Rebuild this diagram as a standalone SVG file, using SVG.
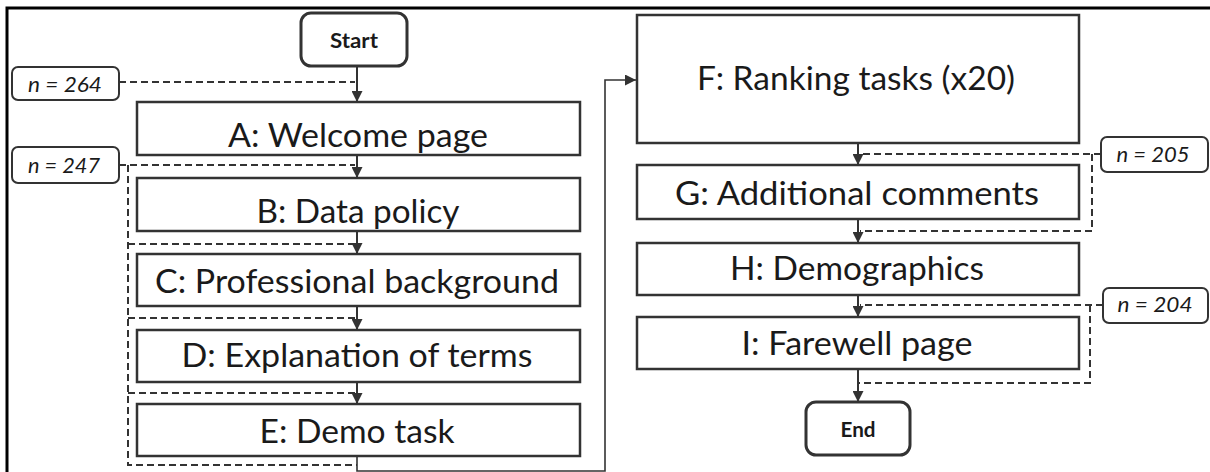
<svg xmlns="http://www.w3.org/2000/svg" width="1210" height="472" viewBox="0 0 1210 472">
<style>
.box{fill:#fff;stroke:#333;stroke-width:2.5}
.term{fill:#fff;stroke:#333;stroke-width:3}
.nbox{fill:#fff;stroke:#333;stroke-width:2}
.lbl{font-family:Lato,"Open Sans",sans-serif;font-size:32px;fill:#1a1a1a;text-anchor:middle}
.tl{font-family:Lato,"Open Sans",sans-serif;font-size:21px;font-weight:bold;fill:#1a1a1a;text-anchor:middle}
.nl{font-family:Lato,"Open Sans",sans-serif;font-size:22px;font-style:italic;fill:#1a1a1a;text-anchor:middle}
.solid{fill:none;stroke:#333;stroke-width:2}
.thin{fill:none;stroke:#333;stroke-width:1.6}
.dash{fill:none;stroke:#333;stroke-width:2;stroke-dasharray:7 4}
</style>
<defs>
<marker id="arr" markerUnits="userSpaceOnUse" markerWidth="11" markerHeight="11" refX="11" refY="5.5" orient="auto">
<path d="M0,0 L11,5.5 L0,11 z" fill="#333"/>
</marker>
</defs>
<rect width="1210" height="472" fill="#fff"/>
<path d="M7,472 V8 H1210" fill="none" stroke="#000" stroke-width="3"/>

<g id="connectors">
<path class="solid" d="M357,66 V102" marker-end="url(#arr)"/>
<path class="solid" d="M357,155 V178" marker-end="url(#arr)"/>
<path class="solid" d="M357,231 V254" marker-end="url(#arr)"/>
<path class="solid" d="M357,306 V330" marker-end="url(#arr)"/>
<path class="solid" d="M357,382 V404" marker-end="url(#arr)"/>
<path class="thin" d="M357,456 V471 H605 V80 H636" marker-end="url(#arr)"/>
<path class="solid" d="M858,143 V165" marker-end="url(#arr)"/>
<path class="solid" d="M858,219 V243" marker-end="url(#arr)"/>
<path class="solid" d="M858,295 V317" marker-end="url(#arr)"/>
<path class="solid" d="M858,369 V402" marker-end="url(#arr)"/>
<path class="dash" d="M119,82 H355"/>
<path class="dash" d="M119,165 H355"/>
<path class="dash" d="M128,165 V465 H357"/>
<path class="dash" d="M128,244 H355"/>
<path class="dash" d="M128,318 H355"/>
<path class="dash" d="M128,393 H355"/>
<path class="dash" d="M1101,154 H860"/>
<path class="dash" d="M1092,154 V231 H860"/>
<path class="dash" d="M1103,305 H860"/>
<path class="dash" d="M1090,305 V383 H858"/>
</g>

<g id="start"><rect class="term" x="301" y="13" width="106" height="53" rx="10"/><text class="tl" x="354" y="48" textLength="48" lengthAdjust="spacingAndGlyphs">Start</text></g>
<g id="n264"><rect class="nbox" x="12" y="67" width="107" height="33" rx="6"/><text class="nl" x="65" y="92" textLength="74" lengthAdjust="spacingAndGlyphs">n = 264</text></g>
<g id="n247"><rect class="nbox" x="12" y="147" width="107" height="36" rx="6"/><text class="nl" x="64" y="173" textLength="72" lengthAdjust="spacingAndGlyphs">n = 247</text></g>
<g id="nodeA"><rect class="box" x="137" y="102" width="443" height="53"/><text class="lbl" x="358" y="147" textLength="260" lengthAdjust="spacingAndGlyphs">A: Welcome page</text></g>
<g id="nodeB"><rect class="box" x="137" y="178" width="443" height="53"/><text class="lbl" x="358" y="223" textLength="203" lengthAdjust="spacingAndGlyphs">B: Data policy</text></g>
<g id="nodeC"><rect class="box" x="137" y="254" width="443" height="52"/><text class="lbl" x="357" y="293" textLength="404" lengthAdjust="spacingAndGlyphs">C: Professional background</text></g>
<g id="nodeD"><rect class="box" x="137" y="330" width="443" height="52"/><text class="lbl" x="357" y="367" textLength="351" lengthAdjust="spacingAndGlyphs">D: Explanation of terms</text></g>
<g id="nodeE"><rect class="box" x="137" y="404" width="443" height="52"/><text class="lbl" x="357" y="443" textLength="195" lengthAdjust="spacingAndGlyphs">E: Demo task</text></g>
<g id="nodeF"><rect class="box" x="637" y="15" width="442" height="128"/><text class="lbl" x="856" y="90" textLength="318" lengthAdjust="spacingAndGlyphs">F: Ranking tasks (x20)</text></g>
<g id="n205"><rect class="nbox" x="1101" y="137" width="107" height="35" rx="6"/><text class="nl" x="1153" y="162" textLength="73" lengthAdjust="spacingAndGlyphs">n = 205</text></g>
<g id="nodeG"><rect class="box" x="637" y="165" width="442" height="54"/><text class="lbl" x="857" y="205" textLength="364" lengthAdjust="spacingAndGlyphs">G: Additional comments</text></g>
<g id="nodeH"><rect class="box" x="637" y="243" width="442" height="52"/><text class="lbl" x="857" y="280" textLength="254" lengthAdjust="spacingAndGlyphs">H: Demographics</text></g>
<g id="n204"><rect class="nbox" x="1103" y="288" width="105" height="35" rx="6"/><text class="nl" x="1155" y="312" textLength="75" lengthAdjust="spacingAndGlyphs">n = 204</text></g>
<g id="nodeI"><rect class="box" x="637" y="317" width="442" height="52"/><text class="lbl" x="857" y="355" textLength="231" lengthAdjust="spacingAndGlyphs">I: Farewell page</text></g>
<g id="end"><rect class="term" x="806" y="402" width="104" height="53" rx="10"/><text class="tl" x="858" y="437" textLength="35" lengthAdjust="spacingAndGlyphs">End</text></g>
</svg>
